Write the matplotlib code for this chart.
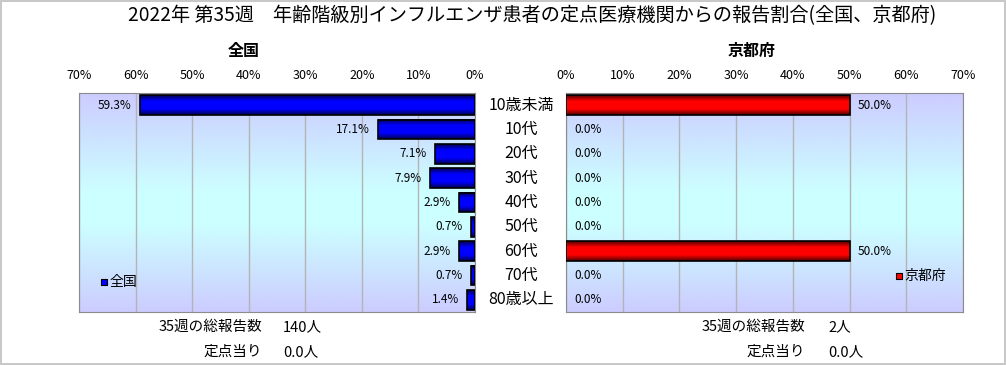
import numpy as np
import matplotlib
matplotlib.use("Agg")
import matplotlib.pyplot as plt
from matplotlib.colors import LinearSegmentedColormap

plt.rcParams['font.family'] = ['Noto Sans CJK JP', 'DejaVu Sans']

# ---- data ----
title = "2022年 第35週　年齢階級別インフルエンザ患者の定点医療機関からの報告割合(全国、京都府)"
categories = ["10歳未満", "10代", "20代", "30代", "40代", "50代", "60代", "70代", "80歳以上"]
national = [59.3, 17.1, 7.1, 7.9, 2.9, 0.7, 2.9, 0.7, 1.4]
kyoto = [50.0, 0.0, 0.0, 0.0, 0.0, 0.0, 50.0, 0.0, 0.0]
ticks = [0, 10, 20, 30, 40, 50, 60, 70]
nat_total, nat_per = "140人", "0.0人"
kyo_total, kyo_per = "2人", "0.0人"

W, H = 1006, 365
fig = plt.figure(figsize=(W / 100, H / 100), dpi=100)
fig.patch.set_edgecolor("#c8c8c8")
fig.patch.set_linewidth(1.5)

bg_cmap = LinearSegmentedColormap.from_list(
    "bg", [(0, "#ccccff"), (0.45, "#ccffff"), (0.6, "#ccffff"), (1, "#ccccff")])


def bar_cmap(dark, bright):
    return LinearSegmentedColormap.from_list(
        "bar", [(0, dark), (0.3, bright), (0.7, bright), (1, dark)])


blue_cm = bar_cmap("#000050", "#0000ff")
red_cm = bar_cmap("#500000", "#ff0000")
bh = 0.82


def setup(ax):
    grad = np.linspace(0, 1, 256).reshape(-1, 1)
    ax.imshow(grad, cmap=bg_cmap, extent=[0, 1, 0, 1], transform=ax.transAxes,
              aspect="auto", zorder=0, origin="upper")
    ax.set_xlim(0, 70)
    ax.set_ylim(len(categories) - 0.5, -0.5)
    ax.set_xticks(ticks)
    ax.set_xticklabels([f"{t}%" for t in ticks], fontsize=9)
    ax.xaxis.tick_top()
    ax.tick_params(axis="x", length=0, pad=8)
    ax.set_yticks([])
    ax.grid(axis="x", color="#b4b4b4", lw=1, zorder=1)
    for s in ax.spines.values():
        s.set_color("#8c8c8c")


def draw_bars(ax, vals, cm):
    grad = np.linspace(0, 1, 64).reshape(-1, 1)
    for i, v in enumerate(vals):
        if v <= 0:
            continue
        ax.imshow(grad, cmap=cm, extent=[0, v, i + bh / 2, i - bh / 2],
                  aspect="auto", zorder=2, origin="upper")
        ax.add_patch(plt.Rectangle((0, i - bh / 2), v, bh, fill=False,
                                   edgecolor="black", lw=1.2, zorder=3))


# left: national (reversed axis)
axL = fig.add_axes([79 / W, 1 - 312 / H, 396 / W, 219 / H])
setup(axL)
draw_bars(axL, national, blue_cm)
for i, v in enumerate(national):
    axL.annotate(f"{v:.1f}%", (v, i), xytext=(-6, 0), textcoords="offset points",
                 ha="right", va="center", fontsize=8.5, zorder=4)
axL.set_xlim(70, 0)
axL.set_ylim(len(categories) - 0.5, -0.5)
axL.scatter([0.063], [0.137], marker="s", s=18, color="#0000ff",
            edgecolor="black", lw=0.8, transform=axL.transAxes, zorder=5)
axL.text(0.077, 0.137, "全国", transform=axL.transAxes, ha="left", va="center",
         fontsize=10, zorder=5)

# right: Kyoto
axR = fig.add_axes([566 / W, 1 - 312 / H, 397 / W, 219 / H])
setup(axR)
draw_bars(axR, kyoto, red_cm)
for i, v in enumerate(kyoto):
    axR.annotate(f"{v:.1f}%", (v, i), xytext=(6, 0), textcoords="offset points",
                 ha="left", va="center", fontsize=8.5, zorder=4)
axR.set_xlim(0, 70)
axR.set_ylim(len(categories) - 0.5, -0.5)
axR.scatter([0.839], [0.164], marker="s", s=18, color="#ff0000",
            edgecolor="black", lw=0.8, transform=axR.transAxes, zorder=5)
axR.text(0.853, 0.164, "京都府", transform=axR.transAxes, ha="left", va="center",
         fontsize=10, zorder=5)

# category labels in the middle
for i, c in enumerate(categories):
    axL.annotate(c, (0, i), xytext=(521 - 475, 0), textcoords="offset pixels",
                 ha="center", va="center", fontsize=11.5, annotation_clip=False)

# titles
fig.text(532 / W, 1 - 16 / H, title, ha="center", va="center", fontsize=13.8)
fig.text(244 / W, 1 - 51 / H, "全国", ha="center", va="center", fontsize=11.5,
         fontweight="bold")
fig.text(752 / W, 1 - 51 / H, "京都府", ha="center", va="center", fontsize=11.5,
         fontweight="bold")

# totals below
fs = 10.5
fig.text(262 / W, 1 - 327 / H, "35週の総報告数", ha="right", va="center", fontsize=fs)
fig.text(283 / W, 1 - 327 / H, nat_total, ha="left", va="center", fontsize=fs)
fig.text(262 / W, 1 - 352 / H, "定点当り", ha="right", va="center", fontsize=fs)
fig.text(283 / W, 1 - 352 / H, nat_per, ha="left", va="center", fontsize=fs)
fig.text(805 / W, 1 - 327 / H, "35週の総報告数", ha="right", va="center", fontsize=fs)
fig.text(828 / W, 1 - 327 / H, kyo_total, ha="left", va="center", fontsize=fs)
fig.text(805 / W, 1 - 352 / H, "定点当り", ha="right", va="center", fontsize=fs)
fig.text(828 / W, 1 - 352 / H, kyo_per, ha="left", va="center", fontsize=fs)

fig.savefig("out.png", dpi=100)
